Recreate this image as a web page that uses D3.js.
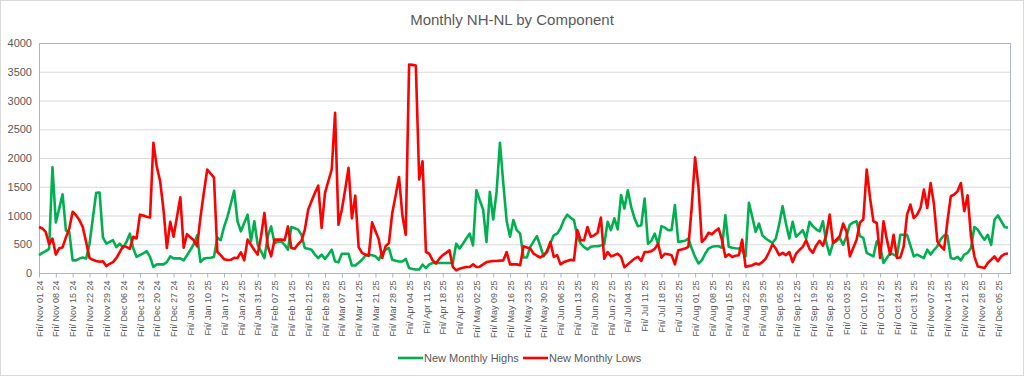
<!DOCTYPE html>
<html>
<head>
<meta charset="utf-8">
<script src="https://cdn.jsdelivr.net/npm/d3@7"></script>
<style>
  body { margin: 0; background: #fff; }
  text { font-family: "Liberation Sans", Arial, sans-serif; fill: #595959; }
</style>
</head>
<body>
<div id="chart"></div>
<script>
// Tick labels (every 5th trading day)
const tickLabels = [
  "Fri/ Nov 01 24", "Fri/ Nov 08 24", "Fri/ Nov 15 24", "Fri/ Nov 22 24", "Fri/ Nov 29 24",
  "Fri/ Dec 06 24", "Fri/ Dec 13 24", "Fri/ Dec 20 24", "Fri/ Dec 27 24",
  "Fri/ Jan 03 25", "Fri/ Jan 10 25", "Fri/ Jan 17 25", "Fri/ Jan 24 25", "Fri/ Jan 31 25",
  "Fri/ Feb 07 25", "Fri/ Feb 14 25", "Fri/ Feb 21 25", "Fri/ Feb 28 25",
  "Fri/ Mar 07 25", "Fri/ Mar 14 25", "Fri/ Mar 21 25", "Fri/ Mar 28 25",
  "Fri/ Apr 04 25", "Fri/ Apr 11 25", "Fri/ Apr 18 25", "Fri/ Apr 25 25",
  "Fri/ May 02 25", "Fri/ May 09 25", "Fri/ May 16 25", "Fri/ May 23 25", "Fri/ May 30 25",
  "Fri/ Jun 06 25", "Fri/ Jun 13 25", "Fri/ Jun 20 25", "Fri/ Jun 27 25",
  "Fri/ Jul 04 25", "Fri/ Jul 11 25", "Fri/ Jul 18 25", "Fri/ Jul 25 25",
  "Fri/ Aug 01 25", "Fri/ Aug 08 25", "Fri/ Aug 15 25", "Fri/ Aug 22 25", "Fri/ Aug 29 25",
  "Fri/ Sep 05 25", "Fri/ Sep 12 25", "Fri/ Sep 19 25", "Fri/ Sep 26 25",
  "Fri/ Oct 03 25", "Fri/ Oct 10 25", "Fri/ Oct 17 25", "Fri/ Oct 24 25", "Fri/ Oct 31 25",
  "Fri/ Nov 07 25", "Fri/ Nov 14 25", "Fri/ Nov 21 25", "Fri/ Nov 28 25",
  "Fri/ Dec 05 25"
];

const yTicks = [0, 500, 1000, 1500, 2000, 2500, 3000, 3500, 4000];

// New Monthly Highs (daily)
const highs = [
  310, 350, 380, 420, 1840, 880, 1120, 1370, 740, 715,
  220, 220, 250, 270, 250, 500, 950, 1395, 1400, 620,
  510, 540, 570, 450, 510, 440, 540, 685, 430, 280,
  310, 340, 380, 280, 105, 150, 150, 150, 190, 290,
  255, 255, 255, 220, 310, 400, 500, 655, 190, 250,
  260, 265, 280, 615, 570, 800, 975, 1200, 1430, 900,
  725, 870, 1015, 550, 900, 490, 375, 260, 640, 810,
  520, 540, 550, 490, 405, 800, 780, 755, 665, 435,
  420, 405, 320, 260, 320, 245, 320, 405, 200, 185,
  335, 335, 335, 130, 130, 180, 230, 300, 320, 310,
  290, 230, 350, 405, 435, 230, 215, 200, 200, 245,
  85, 70, 60, 60, 145, 85, 150, 175, 175, 175,
  175, 175, 175, 175, 510, 425, 510, 600, 685, 480,
  1440, 1265, 1105, 540, 1410, 930, 1410, 2265, 1555, 900,
  630, 920, 745, 685, 270, 270, 455, 550, 640, 465,
  290, 395, 520, 655, 685, 775, 920, 1015, 960, 920,
  630, 510, 450, 410, 455, 465, 465, 480, 500, 890,
  745, 950, 760, 1355, 1120, 1440, 1150, 950, 815, 830,
  1295, 510, 560, 685, 500, 815, 790, 745, 745, 1180,
  540, 550, 560, 600, 425, 280, 165, 220, 335, 425,
  455, 465, 465, 440, 1005, 455, 440, 430, 425, 395,
  290, 1220, 975, 715, 860, 655, 600, 560, 525, 600,
  850, 1160, 860, 600, 890, 630, 685, 745, 600, 890,
  815, 760, 725, 900, 520, 320, 520, 550, 610, 490,
  640, 840, 880, 900, 640, 610, 350, 320, 290, 550,
  465, 175, 260, 350, 320, 290, 665, 665, 665, 475,
  290, 320, 290, 260, 405, 320, 400, 465, 590, 650,
  650, 260, 245, 280, 220, 320, 350, 435, 800, 755,
  660, 580, 665, 490, 930, 1000, 900, 800, 785
];

// New Monthly Lows (daily)
const lows = [
  800, 775, 715, 500, 600, 320, 430, 445, 620, 775,
  1065, 1005, 920, 800, 540, 265, 230, 210, 195, 205,
  120, 160, 190, 260, 365, 465, 455, 420, 630, 600,
  1015, 1000, 980, 965, 2265, 1850, 1600, 1100, 435, 890,
  630, 975, 1315, 440, 675, 620, 570, 465, 975, 1400,
  1800, 1730, 1660, 365, 310, 240, 225, 230, 265, 260,
  360, 220, 580, 490, 400, 320, 640, 1045, 465, 290,
  580, 580, 580, 570, 810, 435, 420, 500, 560, 750,
  1100, 1250, 1390, 1520, 785, 1390, 1600, 1800, 2785, 840,
  1100, 1450, 1830, 950, 1345, 450, 350, 320, 300, 880,
  730, 580, 260, 465, 520, 1045, 1350, 1670, 1000, 665,
  3625, 3620, 3610, 1625, 1945, 365, 335, 220, 165, 250,
  310, 350, 395, 105, 45, 75, 90, 105, 105, 150,
  105, 110, 150, 190, 200, 210, 210, 215, 220, 365,
  150, 150, 150, 135, 465, 445, 425, 335, 300, 270,
  310, 365, 540, 280, 310, 150, 190, 210, 230, 220,
  745, 570, 570, 800, 630, 655, 700, 965, 250, 365,
  290, 310, 335, 280, 100, 150, 200, 250, 280, 210,
  365, 365, 380, 420, 510, 265, 335, 325, 310, 150,
  395, 410, 425, 455, 1150, 2010, 1500, 540, 600, 700,
  675, 730, 775, 570, 280, 325, 280, 300, 310, 580,
  105, 120, 135, 165, 150, 190, 250, 365, 500, 425,
  310, 350, 310, 365, 190, 335, 400, 455, 570, 420,
  350, 480, 560, 475, 665, 1015, 520, 580, 640, 860,
  720, 290, 435, 580, 880, 930, 1800, 1305, 900, 870,
  260, 900, 580, 320, 665, 260, 270, 465, 1015, 1190,
  955, 1015, 1130, 1450, 1130, 1565, 1190, 550, 465, 405,
  900, 1335, 1365, 1420, 1565, 1075, 1350, 640, 290, 115,
  100, 85, 175, 230, 290, 205, 290, 330, 340
];

const width = 1024, height = 376;
const plot = {left: 39, right: 1010, top: 43, bottom: 273};

const svg = d3.select("#chart")
  .append("svg")
  .attr("width", width)
  .attr("height", height);

// Chart border
svg.append("rect")
  .attr("x", 0.5).attr("y", 0.5)
  .attr("width", width - 1).attr("height", height - 1)
  .attr("fill", "#fff")
  .attr("stroke", "#d9d9d9");

// Scales
const x = d3.scaleLinear()
  .domain([0, highs.length - 1])
  .range([plot.left, 1008]);

const y = d3.scaleLinear()
  .domain([0, 4000])
  .range([plot.bottom, plot.top]);

// Gridlines
svg.append("g")
  .selectAll("line")
  .data(yTicks.slice(1))
  .enter()
  .append("line")
  .attr("x1", plot.left).attr("x2", plot.right)
  .attr("y1", d => y(d) + 0.5).attr("y2", d => y(d) + 0.5)
  .attr("stroke", "#d9d9d9");

// Plot area frame
svg.append("rect")
  .attr("x", plot.left + 0.5).attr("y", plot.top + 0.5)
  .attr("width", plot.right - plot.left).attr("height", plot.bottom - plot.top)
  .attr("fill", "none")
  .attr("stroke", "#a9b6c8");

// Y axis
const yAxis = svg.append("g")
  .attr("transform", `translate(${plot.left},0)`)
  .call(d3.axisLeft(y).tickValues(yTicks).tickFormat(d3.format("d")).tickSize(0).tickPadding(7));
yAxis.select(".domain").remove();
yAxis.selectAll("text")
  .style("font-size", "11px")
  .style("fill", "#595959");

// X axis
const xAxis = svg.append("g")
  .attr("transform", `translate(0,${plot.bottom + 0.5})`)
  .call(d3.axisBottom(x)
    .tickValues(d3.range(0, highs.length, 5))
    .tickFormat((d, i) => tickLabels[i])
    .tickSize(4));
xAxis.select(".domain").remove();
xAxis.selectAll("line").attr("stroke", "#a9b6c8");
xAxis.selectAll("text")
  .attr("transform", "rotate(-90)")
  .attr("text-anchor", "end")
  .attr("x", -7)
  .attr("y", 0)
  .attr("dy", "0.35em")
  .style("font-size", "9px")
  .style("fill", "#595959");

// Lines
const line = d3.line()
  .x((d, i) => x(i))
  .y(d => y(d));

svg.append("path")
  .datum(highs)
  .attr("fill", "none")
  .attr("stroke", "#00b050")
  .attr("stroke-width", 2.6)
  .attr("stroke-linejoin", "round")
  .attr("d", line);

svg.append("path")
  .datum(lows)
  .attr("fill", "none")
  .attr("stroke", "#ff0000")
  .attr("stroke-width", 2.6)
  .attr("stroke-linejoin", "round")
  .attr("d", line);

// Title
svg.append("text")
  .attr("x", 512)
  .attr("y", 25)
  .attr("text-anchor", "middle")
  .style("font-size", "15px")
  .text("Monthly NH-NL by Component");

// Legend
const legend = [
  {name: "New Monthly Highs", color: "#00b050", x: 398},
  {name: "New Monthly Lows", color: "#ff0000", x: 523}
];
const lg = svg.append("g");
legend.forEach(d => {
  lg.append("line")
    .attr("x1", d.x).attr("x2", d.x + 25)
    .attr("y1", 358).attr("y2", 358)
    .attr("stroke", d.color)
    .attr("stroke-width", 2.6);
  lg.append("text")
    .attr("x", d.x + 26)
    .attr("y", 362)
    .style("font-size", "11px")
    .text(d.name);
});
</script>
</body>
</html>
